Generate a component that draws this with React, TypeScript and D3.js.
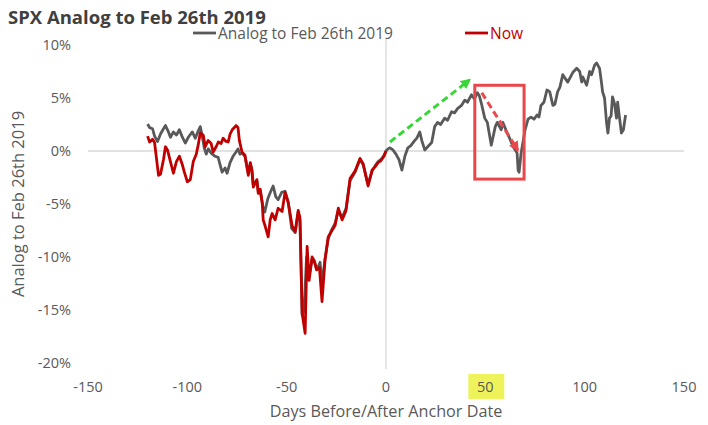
import React from "react";
import * as d3 from "d3";

const xTicks = [-150, -100, -50, 0, 50, 100, 150];
const yTicks = [10, 5, 0, -5, -10, -15, -20];

const analogDays = [
  -120, -119, -117.5, -116.5, -115, -113.5, -112, -111, -109.5, -108.5, -107, -105.5, -104, -102.5, -101, -99.5,
  -97.5, -96, -94.5, -93.5, -92.5, -91.5, -90.5, -89.5, -88, -86, -84.5, -83.5, -82.5, -81, -80, -78.5, -77,
  -75.5, -74.5, -73.5, -72.5, -71, -69.3, -68.3, -67.5, -66.8, -65, -64.3, -63.3, -62, -61, -59.5, -58, -56.8,
  -55.5, -54.3, -52.5, -50.8, -49.2, -47.5, -45.7, -44.2, -43.3, -42.2, -41.2, -40, -38.7, -37.2, -36, -34.7,
  -33.2, -32.2, -30.7, -29.1, -27.5, -25.6, -24, -22.1, -20.1, -18.1, -15.6, -13.1, -11.5, -9.5, -9, -7, -5.5,
  -4, -2.5, -1, 0, 1, 2, 3.5, 5, 6.5, 8, 9.5, 11, 12.5, 14.5, 15.5, 17, 18, 19.5, 21, 23, 24.5, 26, 27.5, 29.5,
  31, 33, 34.5, 36, 38, 39.7, 41, 43, 44.5, 46, 47, 48, 49.7, 51, 53, 55, 56, 58, 58.8, 61, 62, 64, 66, 66.5, 67,
  68, 70, 71.5, 73, 74.5, 76, 77, 78, 79.5, 81, 82.4, 84, 85, 86.4, 87.5, 89, 90, 91.5, 94, 96, 97.5, 98.5, 99,
  101, 102.5, 103.5, 105, 106, 107.5, 108.5, 109, 110, 111, 111.7, 112.5, 113.3, 114, 115, 116, 116.6, 117.5,
  118.5, 119.5, 120.6,
];
const analogValues = [
  2.55, 2.2, 2.1, 1.4, 0.9, 1.6, 2.1, 2.4, 1.8, 1.3, 1.8, 1.5, 2.0, 1.3, 0.75, 1.3,
  1.8, 1.2, 1.9, 2.3, 1.4, 0.3, -0.3, 0.2, -0.2, -0.5, -0.6, -1.3, -2.0, -1.6, -2.1, -1.1, -0.5,
  -0.1, 0.2, -0.3, -0.2, -0.5, -2.1, -1.2, -1.8, -3.2, -2.8, -3.8, -3.8, -5.2, -5.75, -4.5, -3.8, -3.3,
  -4.3, -4.6, -3.9, -3.8, -4.8, -7.3, -7.7, -5.8, -6.6, -15.5, -15.0, -10.0, -11.8, -10.2, -10.5, -11.2,
  -10.5, -12.5, -10.2, -8.3, -7.5, -6.8, -5.6, -6.3, -5.4, -2.8, -2.0, -0.8, -1.3, -2.8, -3.1, -1.9, -1.4,
  -1.0, -0.8, -0.4, 0, 0.2, 0.3, 0.1, -0.3, -0.8, -1.8, -0.5, 0.3, 0.5, 1.0, 1.2, 1.8, 1.0, 0.1, 0.4, 0.8, 2.3, 2.7, 2.5, 3.1,
  2.9, 3.7, 3.6, 4.0, 4.3, 4.8, 4.6, 5.3, 4.9, 5.5, 5.2, 4.5, 3.1, 2.7, 0.55, 2.3, 2.7, 2.0, 2.7, 1.7, 1.3, 0.4, -0.2, -1.8, -2.0,
  -0.2, 2.0, 3.0, 3.2, 3.0, 3.4, 3.2, 4.3, 4.6, 5.75, 5.6, 4.3, 4.4, 5.6, 6.0, 7.2, 6.9, 6.5, 7.4, 7.8, 7.5, 6.5, 7.0,
  6.2, 7.5, 7.2, 8.1, 8.3, 7.8, 6.4, 5.6, 5.0, 2.7, 1.7, 3.1, 3.3, 5.1, 4.5, 3.1, 4.6, 3.2,
  1.7, 2.0, 3.4,
];

const nowDays = [
  -120, -119, -117.5, -116.5, -114.5, -113.5, -112, -111, -110, -108.5, -107, -105.5, -104, -102.5, -101.5, -100,
  -98.5, -97, -95.5, -94.5, -93.5, -92, -91, -89.5, -88, -87, -85.5, -84.4, -83, -82, -80.5, -79.4, -78.5, -77.4,
  -75.5, -74.5, -73.8, -72.5, -71, -69.3, -68.3, -67.5, -66.8, -65, -64.3, -63.3, -62.3, -61.8, -60.8, -59.3,
  -58.3, -57.3, -55.8, -54.3, -52.3, -50.8, -49.2, -47.2, -45.7, -44.2, -43.3, -42.2, -40.7, -39.7, -38.7, -37.2,
  -36, -35, -33.5, -32.2, -30.7, -29.1, -27.5, -25.6, -24, -22.1, -20.1, -18.1, -15.6, -13.1, -11.5, -9.5, -9,
  -7, -5.5, -4, -2.5, -1, 0,
];
const nowValues = [
  1.4, 0.85, 1.1, 0.8, -2.3, -2.2, -0.8, 0.4, 0.1, -1.0, -2.1, -1.0, -0.5, -1.3, -2.0, -2.9,
  -2.7, -1.0, -0.3, 0.6, 1.7, 1.5, 0.4, 1.0, 0.7, -0.1, 0.4, 0.85, 0.7, 1.2, 0.9, 0.85, 1.6, 2.0,
  2.4, 2.2, 1.0, -0.1, -0.4, -2.3, -1.1, -1.8, -3.4, -2.7, -4.0, -3.6, -4.9, -6.5, -7.1, -8.1,
  -6.5, -5.9, -6.5, -5.4, -5.7, -3.9, -4.9, -7.1, -7.6, -5.6, -6.3, -15.3, -17.2, -9.0, -12.2, -10.0,
  -10.4, -11.2, -11.0, -14.2, -10.3, -8.1, -7.6, -7.0, -5.4, -6.5, -5.6, -2.6, -1.9, -0.7, -1.2, -2.9, -3.3,
  -1.8, -1.5, -1.1, -0.9, -0.5, 0,
];

// annotation anchors in data space [day, pct]
const greenArrow = [[2, 0.85], [42, 6.7]];
const redArrow = [[48.2, 5.5], [66.3, 0.1]];
const highlightBox = [[44.7, 6.2], [69.5, -2.65]];

const W = 708;
const H = 425;
const FONT = "'Open Sans', 'DejaVu Sans', sans-serif";

export default function App() {
  const x = d3.scaleLinear().domain([-150, 150]).range([88, 684]);
  const y = d3.scaleLinear().domain([-20, 10]).range([363, 45]);

  const analog = analogDays.map((d, i) => [d, analogValues[i]] as [number, number]);
  const now = nowDays.map((d, i) => [d, nowValues[i]] as [number, number]);
  const line = d3
    .line<[number, number]>()
    .x((d) => x(d[0]))
    .y((d) => y(d[1]));

  const gray = "#595959";
  const red = "#C00000";
  const boxRed = "#E8474B";
  const green = "#39D639";
  const tickColor = "#595959";

  return (
    <svg
      width={W}
      height={H}
      style={{ position: "absolute", left: 0, top: 0, background: "#fff" }}
      fontFamily={FONT}
    >
      <defs>
        <marker id="gHead" viewBox="0 0 10 10" refX="8" refY="5" markerWidth="3.4" markerHeight="3.4" orient="auto">
          <path d="M0,0 L10,5 L0,10 z" fill={green} />
        </marker>
        <marker id="rHead" viewBox="0 0 10 10" refX="8" refY="5" markerWidth="3.4" markerHeight="3.4" orient="auto">
          <path d="M0,0 L10,5 L0,10 z" fill={boxRed} />
        </marker>
      </defs>
      <rect x={0} y={0} width={W} height={H} fill="#fff" />

      {/* title */}
      <text x={8} y={24} fontSize={18.5} fontWeight={700} fill="#404040">
        SPX Analog to Feb 26th 2019
      </text>

      {/* legend */}
      <line x1={193} x2={216} y1={33} y2={33} stroke={gray} strokeWidth={2.8} />
      <text x={218} y={39} fontSize={15.5} fill={gray}>
        Analog to Feb 26th 2019
      </text>
      <line x1={465} x2={488} y1={33} y2={33} stroke={red} strokeWidth={2.8} />
      <text x={490} y={39} fontSize={15.5} fill={red}>
        Now
      </text>

      {/* axes lines */}
      <line x1={x(-150)} x2={x(150)} y1={y(0)} y2={y(0)} stroke="#D9D9D9" strokeWidth={1.3} />
      <line x1={x(0)} x2={x(0)} y1={y(10) - 6} y2={y(-20) + 6} stroke="#D9D9D9" strokeWidth={1.3} />

      {/* y ticks */}
      {yTicks.map((t) => (
        <text key={t} x={71} y={y(t) + 5} fontSize={14.5} fill={tickColor} textAnchor="end">
          {`${t}%`}
        </text>
      ))}

      {/* x ticks */}
      <rect x={x(50) - 17} y={374} width={36} height={25} fill="#EEF35C" />
      {xTicks.map((t) => (
        <text key={t} x={x(t)} y={392} fontSize={14.5} fill={tickColor} textAnchor="middle">
          {`${t}`}
        </text>
      ))}

      {/* axis titles */}
      <text x={x(0)} y={417} fontSize={16.2} fill={tickColor} textAnchor="middle">
        Days Before/After Anchor Date
      </text>
      <text
        transform={`translate(24, ${y(-5)}) rotate(-90)`}
        fontSize={16.5}
        fill={tickColor}
        textAnchor="middle"
      >
        Analog to Feb 26th 2019
      </text>

      {/* series */}
      <path d={line(analog) || ""} fill="none" stroke={gray} strokeWidth={2.8} strokeLinejoin="round" />
      <path d={line(now) || ""} fill="none" stroke={red} strokeWidth={2.8} strokeLinejoin="round" />

      {/* annotations */}
      <line
        x1={x(greenArrow[0][0])}
        y1={y(greenArrow[0][1])}
        x2={x(greenArrow[1][0])}
        y2={y(greenArrow[1][1])}
        stroke={green}
        strokeWidth={3}
        strokeDasharray="7 4"
        markerEnd="url(#gHead)"
      />
      <rect
        x={x(highlightBox[0][0])}
        y={y(highlightBox[0][1])}
        width={x(highlightBox[1][0]) - x(highlightBox[0][0])}
        height={y(highlightBox[1][1]) - y(highlightBox[0][1])}
        fill="none"
        stroke={boxRed}
        strokeWidth={3}
      />
      <line
        x1={x(redArrow[0][0])}
        y1={y(redArrow[0][1])}
        x2={x(redArrow[1][0])}
        y2={y(redArrow[1][1])}
        stroke={boxRed}
        strokeWidth={3}
        strokeDasharray="7 4"
        markerEnd="url(#rHead)"
      />
    </svg>
  );
}
